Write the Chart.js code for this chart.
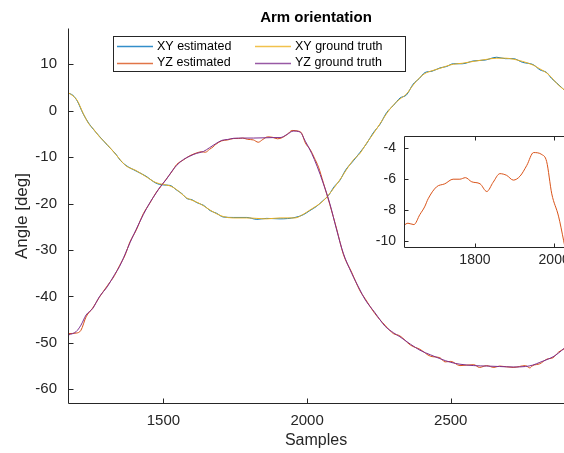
<!DOCTYPE html>
<html>
<head>
<meta charset="utf-8">
<script src="https://cdn.jsdelivr.net/npm/chart.js@4/dist/chart.umd.min.js"></script>
<style>
  html, body { margin: 0; padding: 0; background: #fff; overflow: hidden; width: 564px; height: 453px; }
  #wrap { position: relative; width: 564px; height: 453px; overflow: hidden; }
  #main { position: absolute; left: 0; top: 0; }
  #inset { position: absolute; left: 356px; top: 120px; }
</style>
</head>
<body>
<div id="wrap">
  <canvas id="main" width="564" height="453"></canvas>
  <canvas id="inset" width="220" height="150"></canvas>
</div>
<script>
// ---- data ----
const xyX = [1168,1185,1200,1221,1240,1256,1277,1306,1335,1350,1370,1405,1439,1474,1500,1523,1546,1565,1581,1600,1616,1640,1662,1685,1708,1743,1790,1825,1859,1906,1958,1987,2010,2033,2055,2074,2094,2114,2135,2161,2184,2207,2230,2254,2277,2300,2323,2346,2369,2390,2410,2435,2462,2485,2509,2540,2578,2620,2660,2690,2717,2750,2787,2810,2834,2850,2868,2894];
const xyTruth = [3.9,3.2,2.2,-0.6,-2.8,-3.9,-5.6,-7.4,-9.5,-10.6,-11.9,-12.9,-14.2,-15.5,-15.9,-16.2,-17.0,-18.0,-18.8,-19.3,-19.7,-20.5,-21.4,-22.2,-22.8,-23.1,-23.1,-23.2,-23.3,-23.1,-23.1,-22.3,-21.4,-20.5,-19.5,-18.2,-16.6,-14.9,-12.9,-10.6,-9.2,-7.0,-5.0,-2.8,-0.6,1.2,2.5,3.6,5.5,7.0,8.0,8.6,9.1,9.6,10.0,10.2,10.6,11.0,11.3,11.3,11.1,10.6,9.8,9.0,8.1,7.2,5.9,4.5];
const xyEst = [3.8,3.3,2.1,-0.7,-2.7,-4.0,-5.5,-7.5,-9.4,-10.7,-11.8,-13.0,-14.1,-15.6,-16.0,-16.1,-17.1,-17.9,-18.9,-19.2,-19.8,-20.4,-21.5,-22.1,-22.9,-23.0,-23.0,-23.4,-23.2,-23.3,-23.0,-22.4,-21.5,-20.6,-19.4,-18.3,-16.4,-15.0,-12.7,-10.8,-9.0,-7.1,-4.8,-2.9,-0.4,1.1,2.7,3.4,5.7,6.9,8.2,8.5,9.2,9.5,10.1,10.1,10.7,10.9,11.5,11.2,11.2,10.4,9.9,8.8,8.2,7.0,6.0,4.5];

const yzX = [1170,1196,1213,1231,1254,1277,1306,1330,1347,1366,1384,1405,1430,1453,1474,1490,1509,1530,1546,1570,1592,1615,1639,1660,1680,1703,1724,1745,1776,1813,1850,1882,1906,1931,1952,1975,1994,2016,2035,2056,2079,2103,2126,2155,2184,2201,2236,2271,2300,2323,2360,2393,2430,2462,2500,2532,2580,2625,2670,2717,2760,2785,2810,2835,2856,2875,2894];
const yzTruth = [-48.3,-47.6,-46.2,-44.0,-42.6,-40.1,-37.8,-35.3,-33.6,-31.0,-28.4,-25.6,-22.4,-19.8,-17.8,-16.3,-14.9,-13.0,-11.8,-10.5,-9.8,-9.2,-8.8,-8.0,-7.2,-6.4,-6.2,-5.95,-5.9,-5.9,-5.85,-5.8,-5.8,-5.1,-4.4,-4.6,-6.6,-9.2,-12.0,-15.6,-20.0,-25.7,-30.7,-35.0,-38.6,-40.6,-43.5,-46.4,-47.8,-48.7,-50.3,-51.6,-52.6,-53.4,-54.2,-54.6,-54.9,-55.0,-55.1,-55.2,-55.1,-54.8,-54.2,-53.6,-53.0,-52.2,-51.2];

const yzEstX = [1170,1196,1213,1231,1254,1277,1306,1330,1347,1366,1384,1405,1430,1453,1474,1490,1509,1530,1546,1570,1592,1621,1631,1646,1661,1673,1682,1703,1724,1745,1762,1776,1792,1813,1830,1846,1863,1880,1897,1914,1931,1948,1969,1981,1994,2011,2024,2040,2056,2079,2103,2126,2155,2184,2201,2236,2271,2300,2323,2360,2393,2430,2462,2480,2500,2532,2580,2600,2625,2650,2670,2717,2760,2775,2785,2810,2835,2856,2875,2894];
const yzEst = [-48.0,-47.9,-47.3,-44.4,-42.5,-40.2,-37.6,-35.5,-33.4,-31.2,-28.2,-25.8,-22.2,-19.9,-17.7,-16.4,-14.8,-13.1,-11.6,-10.6,-9.7,-9.0,-8.86,-8.95,-8.3,-7.8,-7.27,-6.5,-6.3,-6.0,-6.0,-5.9,-6.17,-6.3,-6.8,-6.2,-5.64,-5.75,-6.06,-5.8,-5.1,-4.27,-4.4,-4.85,-6.95,-8.4,-10.0,-12.2,-15.4,-20.2,-25.5,-30.9,-34.8,-38.8,-40.4,-43.7,-46.2,-48.0,-48.5,-50.5,-51.4,-52.9,-53.2,-54.1,-54.0,-54.9,-54.7,-55.3,-54.9,-55.3,-55.0,-55.3,-54.9,-55.4,-54.9,-54.5,-53.5,-53.2,-52.0,-51.3];

const seriesNames = ['XY estimated', 'YZ estimated', 'XY ground truth', 'YZ ground truth'];
const mainXTicks = [1500, 2000, 2500];
const mainYTicks = [-60, -50, -40, -30, -20, -10, 0, 10];
const insetXTicks = [1800, 2000];
const insetYTicks = [-10, -8, -6, -4];

// ---- styling ----
const C_BLUE = '#0072BD', C_ORANGE = '#D95319', C_YELLOW = '#EDB120', C_PURPLE = '#7E2F8E';
const AX = '#262626';
const FONT = '"Liberation Sans", Arial, Helvetica, sans-serif';

function pts(xs, ys) { return xs.map((x, i) => ({ x: x, y: ys[i] })); }

function lineDs(label, data, color, order) {
  return { label, data, borderColor: color, backgroundColor: color, borderWidth: 1,
    pointRadius: 0, cubicInterpolationMode: 'monotone', order, fill: false };
}

function setTicks(list) { return (s) => { s.ticks = list.map(v => ({ value: v })); }; }
const plain = (v) => String(v);

// inward ticks + axis lines
function axesPlugin(box) {
  return {
    id: 'axesDraw',
    beforeDatasetsDraw(chart) {
      const { ctx, chartArea: a } = chart;
      ctx.save();
      ctx.fillStyle = '#fff';
      ctx.fillRect(a.left, a.top, a.right - a.left, a.bottom - a.top);
      ctx.restore();
    },
    afterDatasetsDraw(chart) {
      const { ctx, chartArea: a, scales } = chart;
      const L = Math.round(a.left) + 0.5, B = Math.round(a.bottom) - 0.5;
      const T = Math.round(a.top) + 0.5, R = Math.round(a.right) - 0.5;
      ctx.save();
      ctx.strokeStyle = AX; ctx.lineWidth = 1;
      ctx.beginPath();
      if (box) { ctx.rect(L, T, R - L, B - T); }
      else { ctx.moveTo(L, T); ctx.lineTo(L, B); ctx.lineTo(a.right + 2, B); }
      ctx.stroke();
      const tl = box ? 4 : 5;
      ctx.beginPath();
      scales.x.ticks.forEach(t => {
        const px = Math.round(scales.x.getPixelForValue(t.value)) + 0.5;
        ctx.moveTo(px, B); ctx.lineTo(px, B - tl);
        if (box) { ctx.moveTo(px, T); ctx.lineTo(px, T + tl); }
      });
      scales.y.ticks.forEach(t => {
        const py = Math.round(scales.y.getPixelForValue(t.value)) + 0.5;
        ctx.moveTo(L, py); ctx.lineTo(L + tl, py);
        if (box) { ctx.moveTo(R, py); ctx.lineTo(R - tl, py); }
      });
      ctx.stroke();
      ctx.restore();
    }
  };
}

const legendPlugin = {
  id: 'matLegend',
  afterDraw(chart) {
    const ctx = chart.ctx;
    const byName = {};
    chart.data.datasets.forEach(d => byName[d.label] = d.borderColor);
    ctx.save();
    ctx.fillStyle = '#fff';
    ctx.fillRect(113, 36, 293, 36);
    ctx.strokeStyle = AX; ctx.lineWidth = 1;
    ctx.strokeRect(113.5, 36.5, 292, 35);
    const items = [
      [seriesNames[0], 117, 46], [seriesNames[2], 255, 46],
      [seriesNames[1], 117, 62.5], [seriesNames[3], 255, 62.5]
    ];
    ctx.font = '12.5px ' + FONT;
    ctx.textBaseline = 'middle';
    ctx.textAlign = 'left';
    items.forEach(([name, x, y]) => {
      ctx.strokeStyle = byName[name];
      ctx.globalAlpha = 0.8;
      ctx.lineWidth = 1.5;
      ctx.beginPath(); ctx.moveTo(x, Math.round(y) + 0.5); ctx.lineTo(x + 36, Math.round(y) + 0.5); ctx.stroke();
      ctx.globalAlpha = 1;
      ctx.fillStyle = '#000';
      ctx.fillText(name, x + 40, y + 0.5);
    });
    ctx.restore();
  }
};

new Chart(document.getElementById('main'), {
  type: 'line',
  data: {
    datasets: [
      lineDs(seriesNames[0], pts(xyX, xyEst), C_BLUE, 3),
      lineDs(seriesNames[1], pts(yzEstX, yzEst), C_ORANGE, 2),
      lineDs(seriesNames[2], pts(xyX, xyTruth), C_YELLOW, 1),
      lineDs(seriesNames[3], pts(yzX, yzTruth), C_PURPLE, 0)
    ]
  },
  options: {
    responsive: false, devicePixelRatio: 1, animation: false,
    layout: { padding: 0 },
    plugins: {
      legend: { display: false }, tooltip: { enabled: false },
      title: { display: true, text: 'Arm orientation', fullSize: false, color: '#000',
        font: { family: FONT, size: 15, weight: 'bold' }, padding: { top: 9, bottom: 1 } }
    },
    scales: {
      x: {
        type: 'linear', min: 1168, max: 2894,
        afterBuildTicks: setTicks(mainXTicks),
        afterFit: s => { s.height = 49; },
        grid: { display: false, drawTicks: false }, border: { display: false },
        ticks: { color: AX, font: { family: FONT, size: 15 }, padding: 8, maxRotation: 0, callback: plain },
        title: { display: true, text: 'Samples', color: AX, font: { family: FONT, size: 16 }, padding: { top: 0, bottom: 3 } }
      },
      y: {
        type: 'linear', min: -63.17, max: 17.8,
        afterBuildTicks: setTicks(mainYTicks),
        afterFit: s => { s.width = 68; },
        grid: { display: false, drawTicks: false }, border: { display: false },
        ticks: { color: AX, font: { family: FONT, size: 15 }, padding: 11, callback: plain },
        title: { display: true, text: 'Angle [deg]', color: AX, font: { family: FONT, size: 17 }, padding: { top: 12, bottom: 0 } }
      }
    }
  },
  plugins: [axesPlugin(false), legendPlugin]
});

new Chart(document.getElementById('inset'), {
  type: 'line',
  data: {
    datasets: [ lineDs(seriesNames[1], pts(yzEstX, yzEst), C_ORANGE, 0) ]
  },
  options: {
    responsive: false, devicePixelRatio: 1, animation: false,
    layout: { padding: { top: 13, right: 6, left: 0, bottom: 0 } },
    plugins: { legend: { display: false }, tooltip: { enabled: false }, title: { display: false } },
    scales: {
      x: {
        type: 'linear', min: 1621, max: 2040,
        afterBuildTicks: setTicks(insetXTicks),
        afterFit: s => { s.height = 22; },
        grid: { display: false, drawTicks: false }, border: { display: false },
        ticks: { color: AX, font: { family: FONT, size: 14 }, padding: 4, maxRotation: 0, callback: plain }
      },
      y: {
        type: 'linear', min: -10.47, max: -3.22,
        afterBuildTicks: setTicks(insetYTicks),
        afterFit: s => { s.width = 48; },
        grid: { display: false, drawTicks: false }, border: { display: false },
        ticks: { color: AX, font: { family: FONT, size: 14 }, padding: 8, callback: plain }
      }
    }
  },
  plugins: [axesPlugin(true)]
});
</script>
</body>
</html>
